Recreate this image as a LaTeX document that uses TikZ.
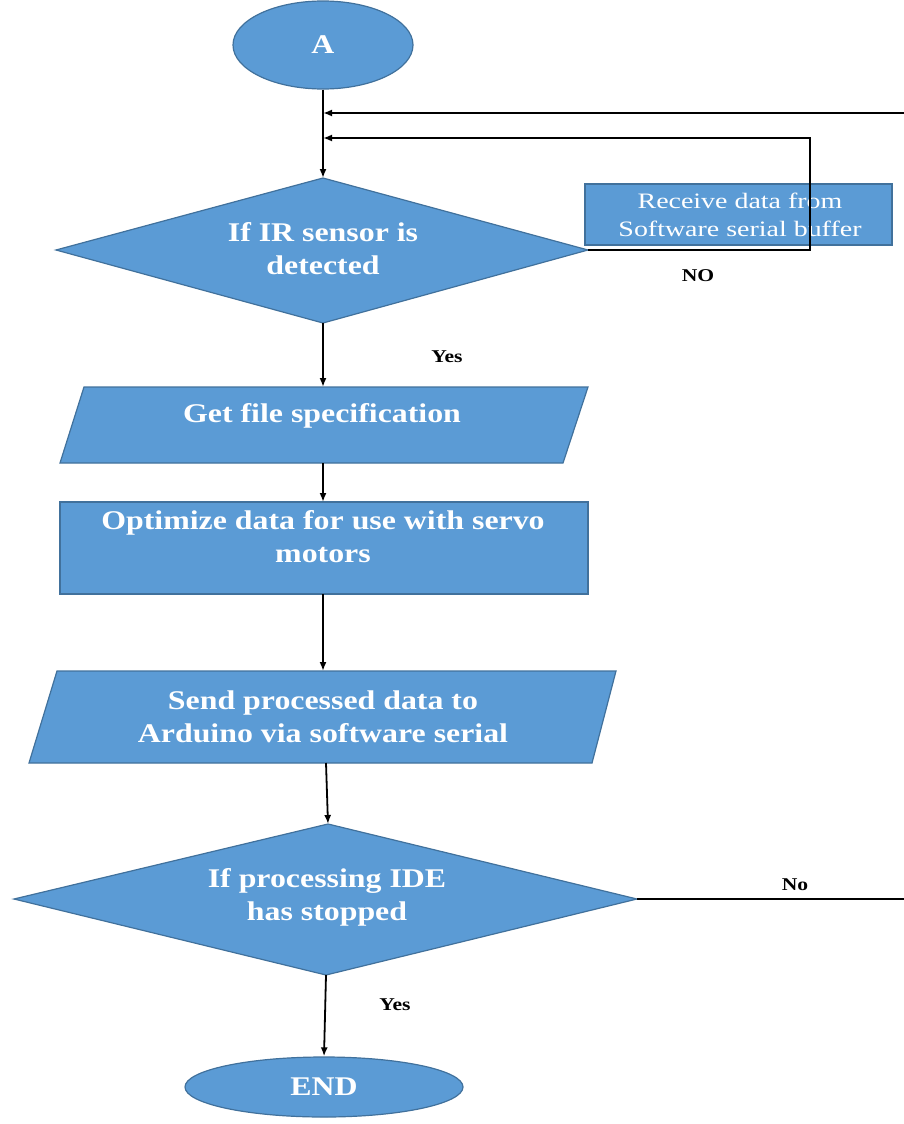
\documentclass[tikz,border=0pt]{standalone}
\usepackage{fontspec}
\setmainfont{Liberation Serif}
\newfontfamily\mainwide[FakeStretch=1.18]{Liberation Serif}
\newfontfamily\boxwide[FakeStretch=1.27]{Liberation Serif}
\newfontfamily\lblwide[FakeStretch=1.2]{Liberation Serif}
\usetikzlibrary{arrows.meta,shapes.geometric}
\definecolor{flowblue}{HTML}{5B9BD5}
\definecolor{edgeblue}{HTML}{41719C}
\begin{document}
\begin{tikzpicture}[x=1pt,y=-1pt,
  flowfill/.style={fill=flowblue,draw=edgeblue,line width=1.2pt},
  whitetxt/.style={text=white,font=\mainwide\bfseries\fontsize{27}{33}\selectfont,align=center,inner sep=0pt},
  smalltxt/.style={text=white,font=\boxwide\fontsize{22}{28}\selectfont,align=center,inner sep=0pt},
  conn/.style={line width=1.8pt,-{Latex[length=9pt,width=7pt]}},
  plain/.style={line width=1.8pt},
  lbl/.style={font=\lblwide\bfseries\fontsize{18}{20}\selectfont,inner sep=0pt}]
\useasboundingbox (0,0) rectangle (904,1124);

% start ellipse
\node[flowfill,ellipse,minimum width=180pt,minimum height=88pt] (A) at (323,45) {};
\node[whitetxt] (Atxt) at (323,45) {A};

% decision 1
\coordinate (d1t) at (323,178);
\coordinate (d1r) at (588,250);
\coordinate (d1b) at (323,323);
\coordinate (d1l) at (56,250);
\path[flowfill] (d1t) -- (d1r) -- (d1b) -- (d1l) -- cycle;
\node[whitetxt] (D1) at (323,249) {If IR sensor is\\detected};

% receive box
\coordinate (rtl) at (585,184);
\coordinate (rbr) at (892,245);
\path[flowfill] (rtl) rectangle (rbr);
\node[smalltxt] (R) at (740,215) {Receive data from\\Software serial buffer};

% junctions
\coordinate (j1) at (323,113);
\coordinate (j2) at (323,138);
\coordinate (e1) at (904,113);
\coordinate (lp1) at (810,250);
\coordinate (lp2) at (810,138);

\draw[plain] (A.south) -- (j1);
\draw[conn] (j1) -- (d1t);
\draw[conn] (e1) -- (j1);
\draw[conn] (d1r) -- (lp1) -- (lp2) -- (j2);
\node[lbl] (no1) at (698,276) {NO};

% get file specification
\coordinate (p1a) at (84,387);
\coordinate (p1b) at (588,387);
\coordinate (p1c) at (563,463);
\coordinate (p1d) at (60,463);
\path[flowfill] (p1a) -- (p1b) -- (p1c) -- (p1d) -- cycle;
\node[whitetxt] (P1) at (322,416) {Get file specification};
\coordinate (p1top) at (323,387);
\coordinate (p1bot) at (323,463);
\draw[conn] (d1b) -- (p1top);
\node[lbl] (yes1) at (447,357) {Yes};

% optimize
\path[flowfill] (60,502) rectangle (588,594);
\node[whitetxt] (O) at (323,537) {Optimize data for use with servo\\motors};
\coordinate (otop) at (323,502);
\coordinate (obot) at (323,594);
\draw[conn] (p1bot) -- (otop);

% send processed data
\coordinate (p2a) at (57,671);
\coordinate (p2b) at (616,671);
\coordinate (p2c) at (592,763);
\coordinate (p2d) at (29,763);
\path[flowfill] (p2a) -- (p2b) -- (p2c) -- (p2d) -- cycle;
\node[whitetxt] (P2) at (323,717) {Send processed data to\\Arduino via software serial};
\coordinate (p2top) at (323,671);
\coordinate (p2bot) at (326,763);
\draw[conn] (obot) -- (p2top);

% decision 2
\coordinate (d2t) at (328,824);
\coordinate (d2r) at (637,899);
\coordinate (d2b) at (326,975);
\coordinate (d2l) at (14,899);
\path[flowfill] (d2t) -- (d2r) -- (d2b) -- (d2l) -- cycle;
\node[whitetxt] (D2) at (327,897) {If processing IDE\\has stopped};
\draw[conn] (p2bot) -- (d2t);
\coordinate (e2) at (904,899);
\draw[plain] (d2r) -- (e2);
\node[lbl] (no2) at (795,885) {No};

% end
\node[flowfill,ellipse,minimum width=278pt,minimum height=60pt] (E) at (324,1087) {};
\node[whitetxt] (Etxt) at (324,1087) {END};
\draw[conn] (d2b) -- (E.north);
\node[lbl] (yes2) at (395,1005) {Yes};
\end{tikzpicture}
\end{document}
